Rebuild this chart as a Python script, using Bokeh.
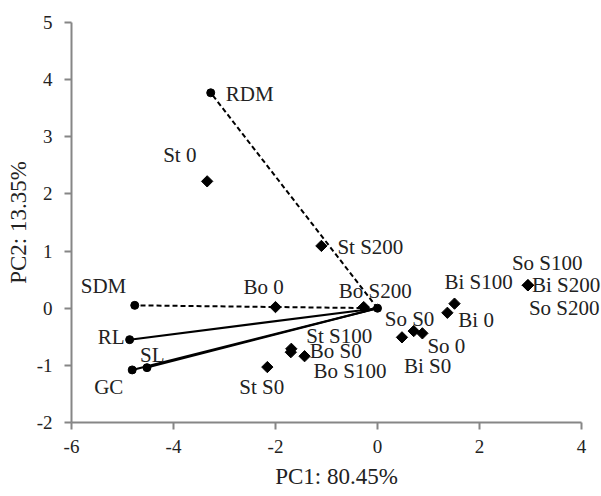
import math
from bokeh.plotting import figure
from bokeh.models import ColumnDataSource, FixedTicker, Range1d, LabelSet, CustomJSTickFormatter
from bokeh.embed import file_html
from bokeh.resources import INLINE

# ---- data ----
samples = ["St 0", "St S0", "St S100", "St S200",
           "Bo 0", "Bo S0", "Bo S100", "Bo S200",
           "So 0", "So S0", "So S100", "So S200",
           "Bi 0", "Bi S0", "Bi S100", "Bi S200"]
sample_pc1 = [-3.34, -2.16, -1.69, -1.10,
              -2.00, -1.70, -1.43, -0.27,
              0.88, 0.71, 2.95, 2.95,
              1.37, 0.48, 1.51, 2.95]
sample_pc2 = [2.22, -1.03, -0.71, 1.09,
              0.02, -0.77, -0.84, 0.02,
              -0.44, -0.40, 0.40, 0.40,
              -0.08, -0.51, 0.08, 0.40]

variables = ["RDM", "SDM", "RL", "SL", "GC"]
var_pc1 = [-3.27, -4.76, -4.86, -4.52, -4.81]
var_pc2 = [3.77, 0.05, -0.55, -1.04, -1.08]
var_dashed = [True, True, False, False, False]

x_ticks = [-6, -4, -2, 0, 2, 4]
y_ticks = [-2, -1, 0, 1, 2, 3, 4, 5]
x_axis_span = (-6, 4)
y_axis_span = (-2, 5)

# ---- label placement (screen pixels: left edge, vertical middle; +y is down) ----
sample_off = {
    "St 0": (-44, -26), "St S0": (-28, 20), "St S100": (15, -13), "St S200": (16, 1),
    "Bo 0": (-32, -20), "Bo S0": (19, -1), "Bo S100": (9, 15), "Bo S200": (-25, -16),
    "So 0": (5, 13), "So S0": (-29, -12), "So S100": (-16, -22), "So S200": (1, 23),
    "Bi 0": (11, 7), "Bi S0": (2, 29), "Bi S100": (-10, -22), "Bi S200": (4, 0),
}
var_off = {"RDM": (15, 1), "SDM": (-54, -19), "RL": (-32, -3), "SL": (-7, -13), "GC": (-38, 17)}

FONT = "Liberation Serif"
TXT = "#222222"
AX = "#868686"

# frame runs 20px beyond the x axis end so that labels on the right are not clipped
FRAME_W = 530
AXIS_W = 510
x_end = x_axis_span[0] + (x_axis_span[1] - x_axis_span[0]) * FRAME_W / AXIS_W

p = figure(width=601, height=496, output_backend="svg", toolbar_location=None,
           x_range=Range1d(x_axis_span[0], x_end), y_range=Range1d(*y_axis_span),
           min_border_left=71, min_border_right=0, min_border_top=22, min_border_bottom=74)
p.outline_line_color = None
p.xgrid.visible = False
p.ygrid.visible = False
p.background_fill_color = "white"
p.border_fill_color = "white"

fmt = "return tick.toFixed(0);"
for ax, ticks, span in ((p.xaxis[0], x_ticks, x_axis_span), (p.yaxis[0], y_ticks, y_axis_span)):
    ax.ticker = FixedTicker(ticks=ticks)
    ax.bounds = span
    ax.formatter = CustomJSTickFormatter(code=fmt)
    ax.minor_tick_line_color = None
    ax.major_tick_in = 0
    ax.major_tick_out = 7
    ax.axis_line_color = AX
    ax.axis_line_width = 2
    ax.major_tick_line_color = AX
    ax.major_tick_line_width = 2
    ax.major_label_text_font = FONT
    ax.major_label_text_font_size = "19px"
    ax.major_label_text_color = TXT
    ax.axis_label_text_font = FONT
    ax.axis_label_text_font_size = "23px"
    ax.axis_label_text_font_style = "normal"
    ax.axis_label_text_color = TXT

p.xaxis.major_label_standoff = 10
p.xaxis.axis_label_standoff = 8
p.yaxis.major_label_standoff = 12
p.yaxis.axis_label_standoff = 3

p.xaxis.axis_label = "PC1: 80.45%"
p.yaxis.axis_label = "PC2: 13.35%"

# loading vectors
for name, x, y, d in zip(variables, var_pc1, var_pc2, var_dashed):
    p.line([0, x], [0, y], line_color="black", line_width=2,
           line_dash="5 3" if d else "solid")

vsrc = ColumnDataSource(dict(x=var_pc1, y=var_pc2, t=variables,
                             dx=[var_off[v][0] for v in variables],
                             dy=[-var_off[v][1] for v in variables]))
p.scatter("x", "y", source=vsrc, marker="circle", size=8, fill_color="black", line_color="black")
p.scatter([0], [0], marker="circle", size=8, fill_color="black", line_color="black")

ssrc = ColumnDataSource(dict(x=sample_pc1, y=sample_pc2, t=samples,
                             dx=[sample_off[s][0] for s in samples],
                             dy=[-sample_off[s][1] for s in samples]))
p.scatter("x", "y", source=ssrc, marker="square", angle=math.pi / 4, size=8,
          fill_color="black", line_color="black")

for src in (vsrc, ssrc):
    p.add_layout(LabelSet(x="x", y="y", text="t", source=src, x_offset="dx", y_offset="dy",
                          text_font=FONT, text_font_size="21px", text_color=TXT,
                          text_align="left", text_baseline="middle"))

open("out.html", "w").write(file_html(p, INLINE))
